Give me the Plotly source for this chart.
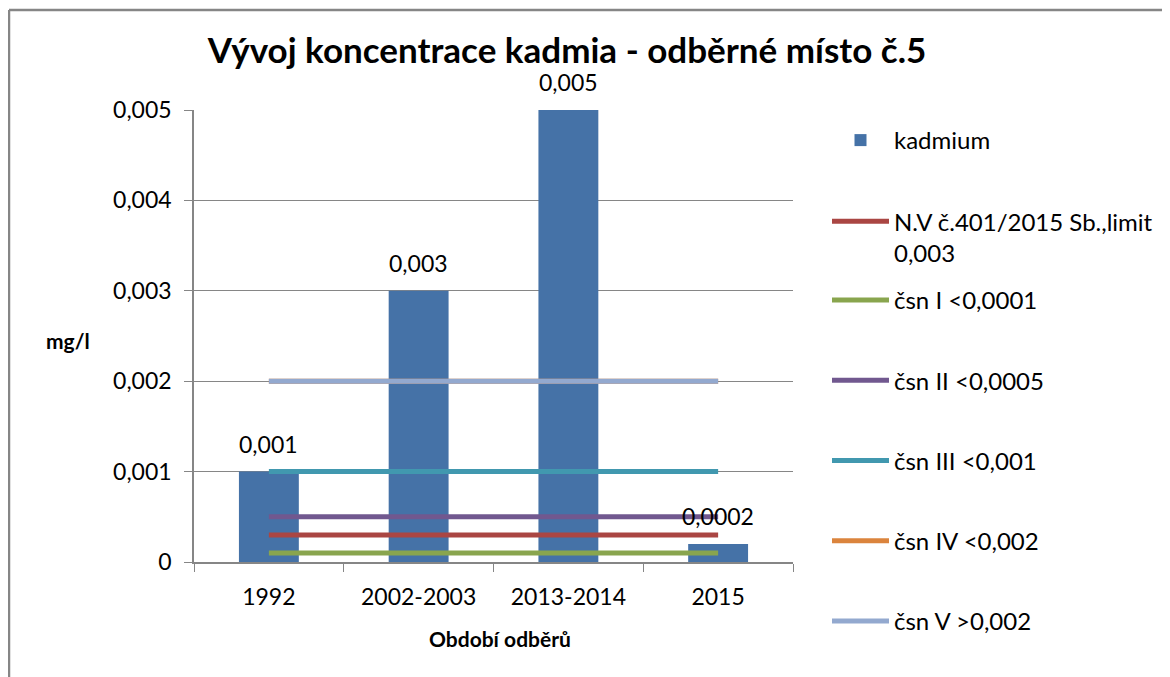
import plotly.graph_objects as go

categories = ["1992", "2002-2003", "2013-2014", "2015"]
kadmium = [0.001, 0.003, 0.005, 0.0002]
kadmium_labels = ["0,001", "0,003", "0,005", "0,0002"]

limit_names = [
    "N.V č.401/2015 Sb.,limit<br>0,003",
    "čsn I <0,0001",
    "čsn II <0,0005",
    "čsn III <0,001",
    "čsn IV <0,002",
    "čsn V >0,002",
]
limit_values = [
    [0.0003, 0.0003, 0.0003, 0.0003],
    [0.0001, 0.0001, 0.0001, 0.0001],
    [0.0005, 0.0005, 0.0005, 0.0005],
    [0.001, 0.001, 0.001, 0.001],
    [0.002, 0.002, 0.002, 0.002],
    [0.002, 0.002, 0.002, 0.002],
]
limit_colors = ["#AA4643", "#89A54E", "#71588F", "#4198AF", "#DB843D", "#93A9CF"]

y_ticks = [0, 0.001, 0.002, 0.003, 0.004, 0.005]
y_ticktext = ["0", "0,001", "0,002", "0,003", "0,004", "0,005"]

FONT = "Lato, 'Open Sans', sans-serif"

fig = go.Figure()
fig.add_trace(go.Bar(
    x=categories, y=kadmium, name="kadmium",
    marker=dict(color="#4572A7", line=dict(width=0)),
    legend="legend",
))
for i, (nm, vals, col) in enumerate(zip(limit_names, limit_values, limit_colors)):
    fig.add_trace(go.Scatter(
        x=categories, y=vals, name=nm, mode="lines",
        line=dict(color=col, width=5),
        legendgroup="g%d" % i,
        legend="legend" if i == 0 else "legend2",
    ))

# page is drawn with an 8px body offset; coordinates below are figure coordinates
OFF = 8
L, R, T, B = 194 - OFF, 1170 - (793 - OFF), 110 - OFF, 677 - (562 - OFF)
W, H = 1170, 677
pw, ph = W - L - R, H - T - B

def px_x(x):
    return (x - OFF - L) / pw

def px_y(y):
    return (H - B - (y - OFF)) / ph

annotations = [
    dict(text=lab, x=i, y=v, xref="x", yref="y", yanchor="bottom", xanchor="center",
         showarrow=False, yshift=12, font=dict(size=23, family=FONT, color="#000000"))
    for i, (v, lab) in enumerate(zip(kadmium, kadmium_labels))
]
annotations += [
    dict(text="<b>mg/l</b>", x=px_x(68), y=px_y(340), xref="paper", yref="paper",
         xanchor="center", yanchor="middle",
         showarrow=False, font=dict(size=21, family=FONT)),
    dict(text="<b>Období odběrů</b>", x=px_x(500), y=px_y(638), xref="paper", yref="paper",
         xanchor="center", yanchor="middle",
         showarrow=False, font=dict(size=21, family=FONT)),
]

legend_common = dict(
    xref="container", yref="container", xanchor="left", yanchor="top",
    font=dict(size=24, family=FONT), valign="top", itemwidth=57,
    bgcolor="rgba(0,0,0,0)", maxheight=1.0,
)

fig.update_layout(
    width=W, height=H,
    margin=dict(l=L, r=R, t=T, b=B, autoexpand=False),
    paper_bgcolor="white", plot_bgcolor="white",
    font=dict(family=FONT, size=23, color="#000000"),
    bargap=0.6,
    showlegend=True,
    legend=dict(x=819 / W, y=1 - 110 / H, tracegroupgap=47, **legend_common),
    legend2=dict(x=819 / W, y=1 - 270 / H, tracegroupgap=46, **legend_common),
    title=dict(
        text="<b>Vývoj koncentrace kadmia - odběrné místo č.5</b>",
        x=559 / W, y=1 - 43 / H, xanchor="center", yanchor="middle",
        font=dict(size=35, family=FONT, color="#000000"),
    ),
    xaxis=dict(
        type="category", tickson="boundaries", ticks="outside", ticklen=8,
        tickcolor="#868686", showline=True, linecolor="#868686", linewidth=1.5,
        showgrid=False, tickfont=dict(size=23), range=[-0.5, 3.5],
        ticklabelstandoff=14,
    ),
    yaxis=dict(
        range=[0, 0.005], tickvals=y_ticks, ticktext=y_ticktext,
        ticks="outside", ticklen=8, tickcolor="#868686",
        showline=True, linecolor="#868686", linewidth=1.5,
        showgrid=True, gridcolor="#868686", gridwidth=1.2,
        zeroline=False, tickfont=dict(size=23), ticklabelstandoff=8,
    ),
    annotations=annotations,
    shapes=[
        dict(type="line", xref="paper", yref="paper", x0=px_x(9), x1=px_x(9),
             y0=px_y(10), y1=px_y(700), line=dict(color="#868686", width=2.5)),
        dict(type="line", xref="paper", yref="paper", x0=px_x(9), x1=px_x(1180),
             y0=px_y(10), y1=px_y(10), line=dict(color="#868686", width=2.5)),
    ],
)

fig.write_html("out.html")
